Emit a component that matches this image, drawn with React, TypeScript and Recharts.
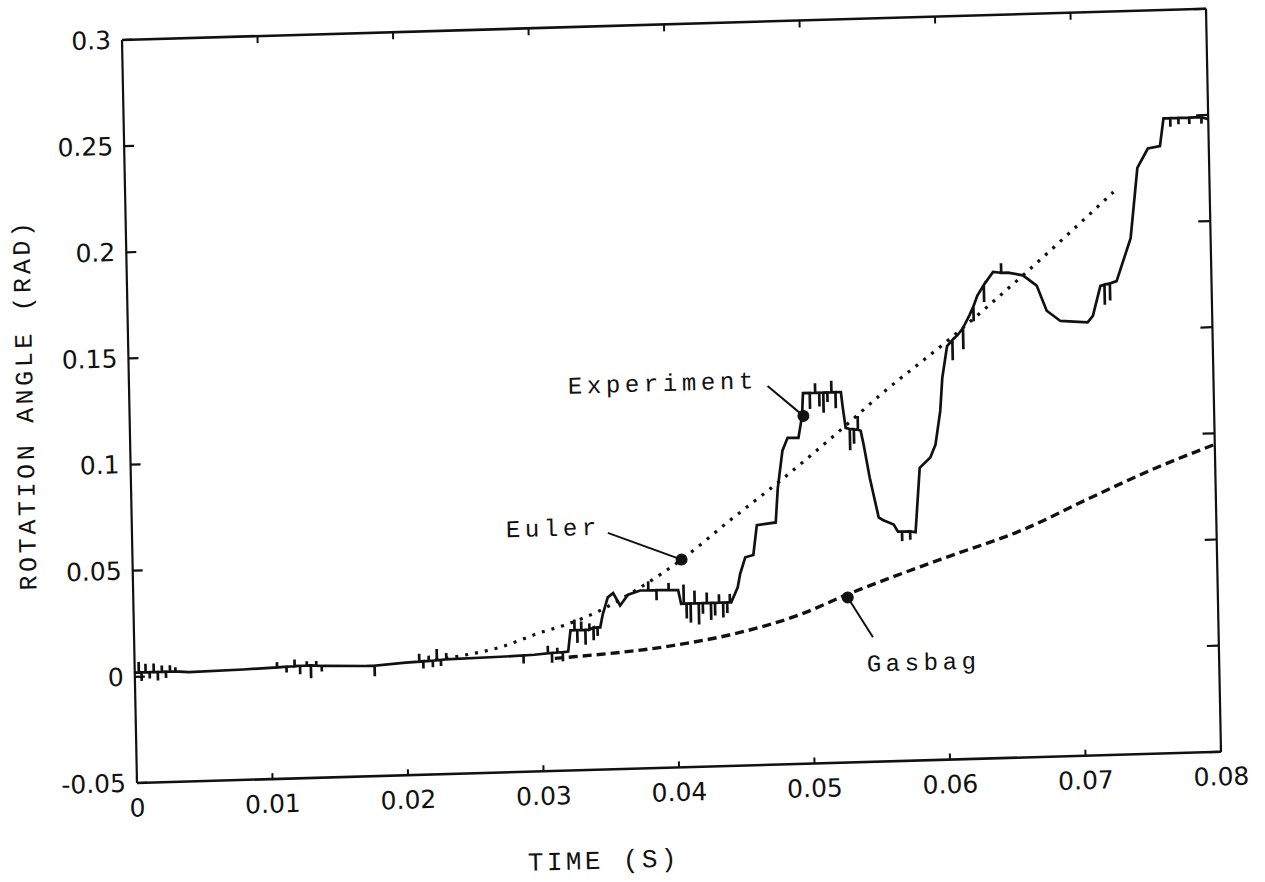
import React from 'react';
import { LineChart, Line, XAxis, YAxis, ReferenceLine, ReferenceDot } from 'recharts';

// ---- axis ticks ----
const xTicks = [0, 0.01, 0.02, 0.03, 0.04, 0.05, 0.06, 0.07, 0.08];
const xTickLabels = ['0', '0.01', '0.02', '0.03', '0.04', '0.05', '0.06', '0.07', '0.08'];
const yTicks = [-0.05, 0, 0.05, 0.1, 0.15, 0.2, 0.25, 0.3];
const yTickLabels = ['-0.05', '0', '0.05', '0.1', '0.15', '0.2', '0.25', '0.3'];

// ---- Experiment: main trace [time (s), angle (rad)] ----
const experimentPath: [number, number][] = [
  [0, 0.002], [0.004, 0.0015], [0.008, 0.002], [0.012, 0.003], [0.014, 0.0026], [0.017, 0.002],
  [0.02, 0.003], [0.023, 0.004], [0.027, 0.0045], [0.0295, 0.005], [0.032, 0.006],
  [0.0322, 0.016], [0.0344, 0.017], [0.0346, 0.023], [0.035, 0.031], [0.0354, 0.033], [0.0359, 0.027],
  [0.0365, 0.032], [0.0374, 0.0338], [0.0402, 0.0335], [0.0404, 0.027], [0.0441, 0.027],
  [0.0446, 0.034], [0.0448, 0.0403], [0.0452, 0.048], [0.0458, 0.049], [0.0461, 0.063], [0.0475, 0.064],
  [0.0477, 0.08], [0.0481, 0.0977], [0.0485, 0.1037], [0.0493, 0.1035], [0.0496, 0.1138],
  [0.0497, 0.1245], [0.0525, 0.1245], [0.0526, 0.118], [0.0528, 0.1076], [0.0539, 0.106],
  [0.0541, 0.0994], [0.0545, 0.0838], [0.0551, 0.065], [0.0554, 0.0637], [0.0562, 0.0614],
  [0.0565, 0.058], [0.0578, 0.0575], [0.0582, 0.0878], [0.059, 0.0925], [0.0594, 0.0985],
  [0.0598, 0.1143], [0.06, 0.1298], [0.0604, 0.1447], [0.0612, 0.1498], [0.0621, 0.159],
  [0.0627, 0.168], [0.0639, 0.179], [0.065, 0.1785], [0.0661, 0.177], [0.0671, 0.172], [0.0678, 0.16],
  [0.0688, 0.155], [0.0708, 0.154], [0.0712, 0.157], [0.0718, 0.171], [0.073, 0.173], [0.0741, 0.193],
  [0.0747, 0.226], [0.0755, 0.235], [0.0764, 0.236], [0.0767, 0.249], [0.08, 0.248],
];

// ---- Experiment: noise spikes [time (s), base angle, spike tip angle] ----
const experimentSpikes: [number, number, number][] = [
  [0.0003, 0.002, 0.007], [0.0005, 0.002, -0.002], [0.0008, 0.002, 0.006], [0.0011, 0.002, -0.001],
  [0.0014, 0.002, 0.006], [0.0017, 0.002, -0.002], [0.002, 0.002, 0.005], [0.0023, 0.002, -0.001],
  [0.0026, 0.002, 0.005], [0.003, 0.002, 0.004],
  [0.0105, 0.0025, 0.005], [0.0112, 0.0027, 0.0], [0.0118, 0.0028, 0.006], [0.0122, 0.0029, -0.001],
  [0.0127, 0.003, 0.005], [0.013, 0.003, -0.003], [0.0134, 0.0028, 0.005], [0.0138, 0.0026, 0.0],
  [0.0177, 0.002, -0.003],
  [0.021, 0.0033, 0.007], [0.0213, 0.0034, 0.0], [0.0217, 0.0035, 0.006], [0.022, 0.0036, 0.0005],
  [0.0223, 0.0037, 0.009], [0.0226, 0.0038, 0.001], [0.023, 0.004, 0.007],
  [0.0287, 0.0048, 0.001], [0.0305, 0.0055, 0.009], [0.0308, 0.0056, 0.001], [0.0312, 0.0057, 0.008],
  [0.0316, 0.0058, 0.0015],
  [0.0325, 0.016, 0.021], [0.0327, 0.016, 0.01], [0.033, 0.016, 0.02], [0.0333, 0.016, 0.009],
  [0.0336, 0.016, 0.019], [0.0339, 0.017, 0.011], [0.0342, 0.017, 0.013],
  [0.038, 0.0338, 0.038], [0.0386, 0.0338, 0.029], [0.0395, 0.0337, 0.037],
  [0.0406, 0.027, 0.036], [0.0408, 0.027, 0.02], [0.0411, 0.027, 0.018], [0.0414, 0.027, 0.033],
  [0.0417, 0.027, 0.017], [0.042, 0.027, 0.022], [0.0423, 0.027, 0.032], [0.0426, 0.027, 0.019],
  [0.0429, 0.027, 0.021], [0.0432, 0.027, 0.031], [0.0435, 0.027, 0.02], [0.0438, 0.027, 0.022],
  [0.044, 0.027, 0.031],
  [0.0502, 0.1245, 0.117], [0.0506, 0.1245, 0.129], [0.0509, 0.1245, 0.118], [0.0512, 0.1245, 0.115],
  [0.0515, 0.1245, 0.12], [0.0518, 0.1245, 0.13], [0.0521, 0.1245, 0.117],
  [0.0531, 0.107, 0.097], [0.0534, 0.1068, 0.1], [0.0537, 0.1065, 0.113],
  [0.0568, 0.058, 0.0535], [0.0574, 0.058, 0.054],
  [0.0608, 0.1475, 0.138], [0.0616, 0.153, 0.143], [0.0624, 0.163, 0.156], [0.0632, 0.173, 0.165],
  [0.0645, 0.1785, 0.183],
  [0.0721, 0.1715, 0.162], [0.0725, 0.172, 0.164],
  [0.0772, 0.249, 0.245], [0.0778, 0.249, 0.246], [0.0786, 0.249, 0.246], [0.0795, 0.249, 0.246],
];

const euler: [number, number][] = [
  [0.0222, 0.004], [0.0242, 0.0056], [0.027, 0.009], [0.03, 0.0154], [0.0317, 0.0184], [0.0344, 0.0249],
  [0.0374, 0.0352], [0.0405, 0.0478], [0.044, 0.065], [0.0479, 0.0836], [0.0526, 0.1076],
  [0.0554, 0.1226], [0.0604, 0.147], [0.0661, 0.177], [0.0729, 0.215],
];

const gasbag: [number, number][] = [
  [0.031, 0.003], [0.0324, 0.0035], [0.0398, 0.0075], [0.0447, 0.0127], [0.0492, 0.0204],
  [0.0525, 0.0287], [0.0596, 0.0444], [0.0658, 0.0574], [0.0708, 0.0715], [0.0757, 0.0847],
  [0.08, 0.0948],
];

// ---- annotation labels ----
const annotationNames = ['Experiment', 'Euler', 'Gasbag'];
const annotationMarkers: [number, number][] = [[0.0497, 0.1138], [0.0405, 0.0478], [0.0527, 0.0277]];
const annotationLeaderEnds: [number, number][] = [[0.0471, 0.1284], [0.0351, 0.0614], [0.0545, 0.0086]];
const annotationTextAt: [number, number][] = [[0.0464, 0.1305], [0.0346, 0.0637], [0.054, -0.0044]];
const annotationAnchors = ['end', 'end', 'start'];

const toRows = (arr: [number, number][]) => arr.map(([t, v]) => ({ t, v }));

// merge the main trace with its vertical noise spikes, ordered by time
const buildExperiment = () => {
  const items: { t: number; pts: number[] }[] = [
    ...experimentPath.map(([t, v]) => ({ t, pts: [v] })),
    ...experimentSpikes.map(([t, b, s]) => ({ t, pts: [b, s, b] })),
  ];
  items.sort((a, b) => a.t - b.t);
  const rows: { t: number; v: number }[] = [];
  items.forEach((it) => it.pts.forEach((v) => rows.push({ t: it.t, v })));
  return rows;
};

const INK = '#111';
const TICK_FONT = '"DejaVu Sans", sans-serif';
const MONO = '"Liberation Mono", "DejaVu Sans Mono", monospace';

const LeftTick = (p: any) => {
  const i = yTicks.indexOf(p.payload.value);
  return (
    <g>
      <line x1={p.x} x2={p.x + 10} y1={p.y} y2={p.y} stroke={INK} strokeWidth={2.2} />
      <text x={p.x - 11} y={p.y} textAnchor="end" dominantBaseline="central" fontFamily={TICK_FONT} fontSize={25} fill={INK}>
        {i >= 0 ? yTickLabels[i] : ''}
      </text>
    </g>
  );
};

const RightTick = (p: any) => (
  <line x1={p.x - 12} x2={p.x} y1={p.y} y2={p.y} stroke={INK} strokeWidth={2.2} />
);

const BottomTick = (p: any) => {
  const i = xTicks.indexOf(p.payload.value);
  return (
    <g>
      <line x1={p.x} x2={p.x} y1={p.y} y2={p.y - 6} stroke={INK} strokeWidth={2} />
      <text x={p.x} y={p.y + 25} textAnchor="middle" dominantBaseline="central" fontFamily={TICK_FONT} fontSize={25} fill={INK}>
        {i >= 0 ? xTickLabels[i] : ''}
      </text>
    </g>
  );
};

const TopTick = (p: any) => (
  <line x1={p.x} x2={p.x} y1={p.y} y2={p.y + 7} stroke={INK} strokeWidth={2} />
);

const YTitle = (props: any) => {
  const vb = props.viewBox;
  const x = vb.x + 34;
  const y = vb.y + vb.height / 2 - 10;
  return (
    <text x={x} y={y} transform={`rotate(-90, ${x}, ${y})`} textAnchor="middle" dominantBaseline="central"
      fontFamily={MONO} fontSize={25} letterSpacing={3.6} fill={INK}>
      ROTATION ANGLE (RAD)
    </text>
  );
};

const XTitle = (props: any) => {
  const vb = props.viewBox;
  return (
    <text x={vb.x + 465} y={vb.y + 92} textAnchor="middle" dominantBaseline="central"
      fontFamily={MONO} fontSize={26} letterSpacing={3.4} fill={INK}>
      TIME (S)
    </text>
  );
};

export default function App() {
  const experimentRows = buildExperiment();
  return (
    <div style={{ position: 'fixed', left: 0, top: 0, width: 1265, height: 882, overflow: 'hidden', background: '#fff' }}>
      <div style={{ width: 1265, height: 900, transform: 'matrix(1, -0.0288, 0.0202, 1, 0, 0)', transformOrigin: '137px 783px' }}>
        <LineChart width={1265} height={900} margin={{ top: 30, right: 24, bottom: 27, left: 0 }}>
          <XAxis xAxisId="b" dataKey="t" type="number" domain={[0, 0.08]} ticks={xTicks} interval={0}
            orientation="bottom" height={90} allowDataOverflow tickSize={0} tickMargin={0} tickLine={false}
            axisLine={{ stroke: INK, strokeWidth: 2.6 }} tick={(p: any) => <BottomTick {...p} />}
            label={{ content: (p: any) => <XTitle {...p} /> }} />
          <XAxis xAxisId="top" dataKey="t" type="number" domain={[0, 0.08]} ticks={xTicks} interval={0}
            orientation="top" height={10} allowDataOverflow tickSize={0} tickMargin={0} tickLine={false}
            axisLine={{ stroke: INK, strokeWidth: 2.6 }} tick={(p: any) => <TopTick {...p} />} />
          <YAxis yAxisId="l" type="number" domain={[-0.05, 0.3]} ticks={yTicks} interval={0}
            orientation="left" width={137} allowDataOverflow tickSize={0} tickMargin={0} tickLine={false}
            axisLine={{ stroke: INK, strokeWidth: 2.2 }} tick={(p: any) => <LeftTick {...p} />}
            label={{ content: (p: any) => <YTitle {...p} /> }} />
          <YAxis yAxisId="r" type="number" domain={[-0.05, 0.3]} ticks={yTicks} interval={0}
            orientation="right" width={20} allowDataOverflow tickSize={0} tickMargin={0} tickLine={false}
            axisLine={{ stroke: INK, strokeWidth: 2.2 }} tick={(p: any) => <RightTick {...p} />} />

          <Line xAxisId="b" yAxisId="l" data={toRows(gasbag)} dataKey="v" type="monotone" stroke={INK}
            strokeWidth={3.4} strokeDasharray="9 5" dot={false} isAnimationActive={false} />
          <Line xAxisId="b" yAxisId="l" data={toRows(euler)} dataKey="v" type="monotone" stroke={INK}
            strokeWidth={3.2} strokeDasharray="3 7" dot={false} isAnimationActive={false} />
          <Line xAxisId="b" yAxisId="l" data={experimentRows} dataKey="v" type="linear" stroke={INK}
            strokeWidth={2.7} dot={false} isAnimationActive={false} />

          {annotationNames.map((name, i) => (
            <ReferenceLine key={'l' + name} xAxisId="b" yAxisId="l" ifOverflow="visible"
              segment={[
                { x: annotationLeaderEnds[i][0], y: annotationLeaderEnds[i][1] },
                { x: annotationMarkers[i][0], y: annotationMarkers[i][1] },
              ]}
              stroke={INK} strokeWidth={2} />
          ))}
          {annotationNames.map((name, i) => (
            <ReferenceDot key={'d' + name} xAxisId="b" yAxisId="l" x={annotationMarkers[i][0]} y={annotationMarkers[i][1]}
              r={5.5} fill={INK} stroke={INK} ifOverflow="visible" />
          ))}
          {annotationNames.map((name, i) => (
            <ReferenceDot key={'t' + name} xAxisId="b" yAxisId="l" x={annotationTextAt[i][0]} y={annotationTextAt[i][1]}
              r={1} ifOverflow="visible"
              shape={(p: any) => (
                <text x={p.cx} y={p.cy} textAnchor={annotationAnchors[i] as any} dominantBaseline="central"
                  fontFamily={MONO} fontSize={24} letterSpacing={4.6} fill={INK}>
                  {name}
                </text>
              )} />
          ))}
        </LineChart>
      </div>
    </div>
  );
}
